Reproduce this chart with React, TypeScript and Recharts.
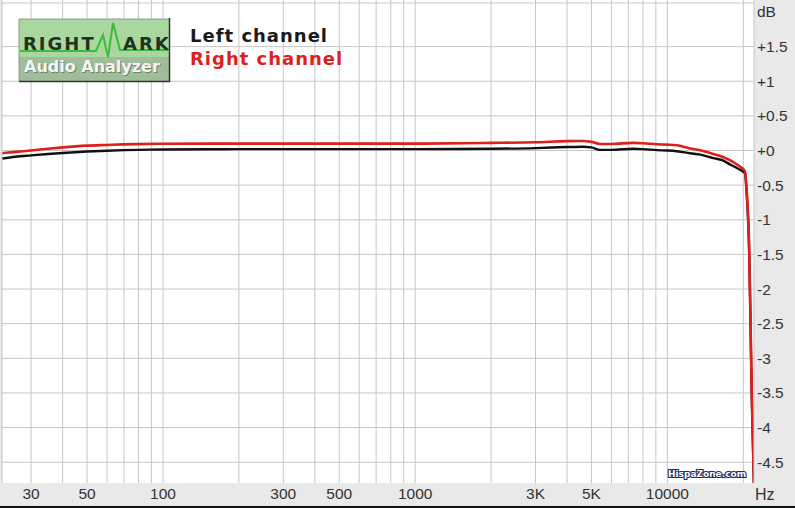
import React from 'react';
import { LineChart, Line, XAxis, YAxis, CartesianGrid } from 'recharts';

// Frequency response, Hz -> dB
const FREQS = [23, 26, 30, 35, 40, 50, 60, 70, 80, 100, 150, 200, 300, 500, 1000, 2000, 3000, 4000, 4600, 5000, 5400, 6000, 7300, 8000, 9100, 10000, 10900, 12300, 13500, 15200, 16500, 17700, 19000, 20300, 20620, 21110, 21350, 21590, 21820, 22050];
const LEFT_DB = [-0.115, -0.09, -0.07, -0.05, -0.035, -0.015, -0.003, 0.005, 0.01, 0.014, 0.018, 0.02, 0.02, 0.02, 0.02, 0.025, 0.035, 0.05, 0.055, 0.045, 0.01, 0.01, 0.025, 0.02, 0.005, 0, -0.01, -0.04, -0.06, -0.11, -0.14, -0.2, -0.26, -0.33, -0.62, -1.5, -2.45, -3.5, -4.2, -4.9];
const RIGHT_DB = [-0.04, -0.02, 0, 0.025, 0.045, 0.07, 0.08, 0.088, 0.093, 0.098, 0.1, 0.1, 0.1, 0.1, 0.1, 0.11, 0.12, 0.135, 0.137, 0.125, 0.095, 0.095, 0.11, 0.105, 0.09, 0.085, 0.075, 0.03, 0.005, -0.05, -0.09, -0.14, -0.21, -0.3, -0.57, -1.43, -2.4, -3.45, -4.15, -4.85];

const X_TICKS = [30, 50, 100, 300, 500, 1000, 3000, 5000, 10000];
const X_GRID = [30, 40, 50, 60, 70, 80, 90, 100, 200, 300, 400, 500, 600, 700, 800, 900, 1000, 2000, 3000, 4000, 5000, 6000, 7000, 8000, 9000, 10000, 20000];
const Y_TICKS = [-4.5, -4, -3.5, -3, -2.5, -2, -1.5, -1, -0.5, 0, 0.5, 1, 1.5, 2];
const Y_GRID = [-4.5, -4, -3.5, -3, -2.5, -2, -1.5, -1, -0.5, 0, 0.5, 1, 1.5, 2.13];

const X_DOMAIN = [23, 22050];
const Y_DOMAIN = [-4.8, 2.173];

const GRID = '#c6c6c6';
const PANEL = '#e9e9e9';
const RED = '#de1f1c';

const data = FREQS.map((f, i) => ({ f, left: LEFT_DB[i], right: RIGHT_DB[i] }));

const fmtX = (v: number) => (v === 3000 ? '3K' : v === 5000 ? '5K' : String(v));
const fmtY = (v: number) => (v === 2 ? 'dB' : v >= 0 ? `+${v}` : String(v));

const tickStyle = { fill: '#333', fontSize: 15.5, fontFamily: '"Liberation Sans", Arial, sans-serif' };

const Overlay = () => (
  <svg width={795} height={508} style={{ position: 'absolute', left: 0, top: 0, pointerEvents: 'none' }}>
    {/* logo */}
    <rect x={19} y={19} width={150} height={38} fill="#aad6a0" />
    <rect x={19} y={57} width={150} height={24} fill="#9fbd98" />
    <line x1={19} y1={19} x2={19} y2={81} stroke="#8a9a88" />
    <line x1={19} y1={19} x2={169} y2={19} stroke="#8a9a88" />
    <line x1={169.5} y1={18} x2={169.5} y2={82} stroke="#333" strokeWidth={1.5} />
    <line x1={19} y1={81.5} x2={170} y2={81.5} stroke="#333" strokeWidth={1.5} />
    <polyline points="20,51 96,51 103,35 108,57 113,23 120,50 168,50" fill="none" stroke="#3dbb3d" strokeWidth={2} />
    <g fontFamily="'DejaVu Sans', Verdana, sans-serif" fontWeight="bold">
      <text x={23} y={50} fontSize={18} letterSpacing={2} fill="#1f3322">RIGHT</text>
      <text x={123} y={50} fontSize={18} letterSpacing={2} fill="#1f3322">ARK</text>
      <text x={25} y={73} fontSize={16} fill="#6f856b">Audio Analyzer</text>
      <text x={24} y={72} fontSize={16} fill="#f4f4f4">Audio Analyzer</text>
      {/* legend */}
      <text x={190} y={42} fontSize={18} letterSpacing={1} fill="#1a1a1a">Left channel</text>
      <text x={190} y={65} fontSize={18} letterSpacing={1} fill={RED}>Right channel</text>
      {/* watermark */}
      <text x={668} y={477} fontSize={9} fill="#fff" stroke="#1c2b5e" strokeWidth={2.2} paintOrder="stroke">HispaZone.com</text>
    </g>
    <text x={755} y={500} fontSize={16} fill="#333" fontFamily='"Liberation Sans", Arial, sans-serif'>Hz</text>
    <rect x={0} y={506} width={795} height={2} fill="#111" />
  </svg>
);

export default function App() {
  return (
    <div style={{ position: 'absolute', left: 0, top: 0, width: 795, height: 508, background: PANEL }}>
      <LineChart width={795} height={508} data={data} margin={{ top: 0, right: 0, bottom: 0, left: 0 }}>
        <CartesianGrid
          stroke={GRID}
          fill="#fff"
          verticalValues={X_GRID}
          horizontalValues={Y_GRID}
        />
        <XAxis
          dataKey="f"
          type="number"
          scale="log"
          domain={X_DOMAIN}
          allowDataOverflow
          ticks={X_TICKS}
          tickFormatter={fmtX}
          interval={0}
          height={25}
          axisLine={false}
          tickLine={false}
          tickSize={0}
          tickMargin={5}
          tick={tickStyle}
        />
        <YAxis
          orientation="right"
          type="number"
          domain={Y_DOMAIN}
          allowDataOverflow
          ticks={Y_TICKS}
          tickFormatter={fmtY}
          interval={0}
          width={41}
          axisLine={{ stroke: GRID }}
          tickLine={false}
          tickSize={0}
          tickMargin={3}
          tick={{ ...tickStyle, textAnchor: 'start' }}
        />
        <YAxis
          yAxisId="l"
          orientation="left"
          type="number"
          domain={Y_DOMAIN}
          allowDataOverflow
          width={2}
          tick={false}
          tickLine={false}
          axisLine={{ stroke: GRID }}
        />
        <Line dataKey="left" type="monotone" stroke="#111" strokeWidth={2.4} dot={false} isAnimationActive={false} />
        <Line dataKey="right" type="monotone" stroke={RED} strokeWidth={2.6} dot={false} isAnimationActive={false} />
      </LineChart>
      <Overlay />
    </div>
  );
}
